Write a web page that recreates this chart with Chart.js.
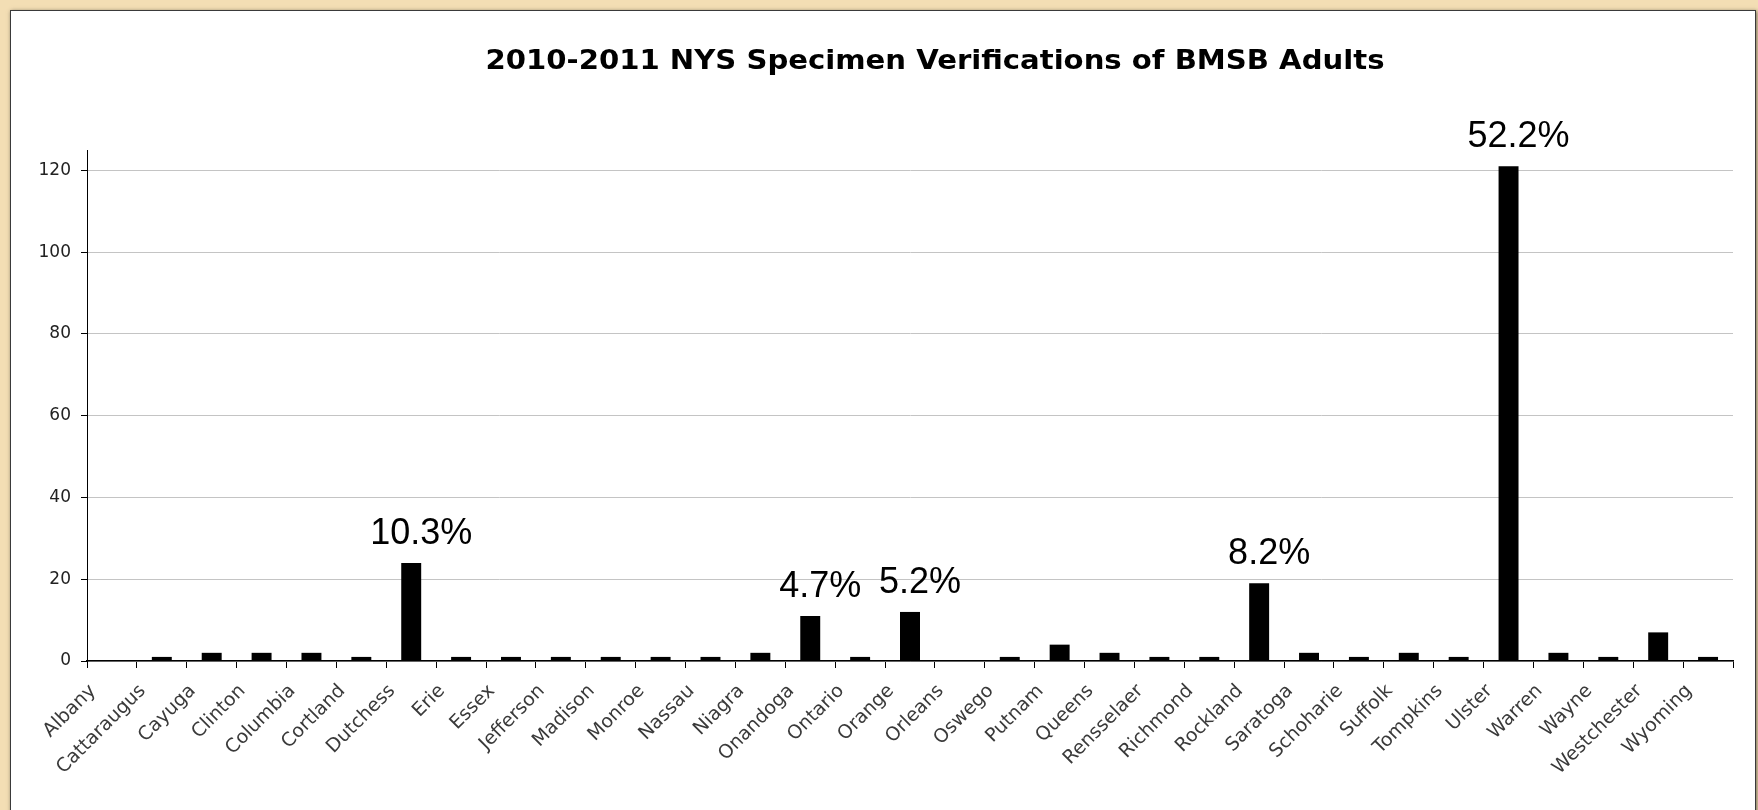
<!DOCTYPE html>
<html>
<head>
<meta charset="utf-8">
<script src="https://cdn.jsdelivr.net/npm/chart.js@4/dist/chart.umd.min.js"></script>
<style>
  html, body { margin: 0; padding: 0; background: #f3deb4; overflow: hidden }
  #panel { position: absolute; left: 10px; top: 10px; width: 1744px; height: 830px;
           background: #fff; border: 1px solid #3a3a3a; box-shadow: 1px 1px 4px rgba(0,0,0,.55) }
  #chart { position: absolute; left: 0; top: 0 }
</style>
</head>
<body>
<div id="panel"></div>
<canvas id="chart" width="1758" height="810"></canvas>
<script>
"use strict"

const title = "2010-2011 NYS Specimen Verifications of BMSB Adults"

const counties = [
  "Albany", "Cattaraugus", "Cayuga", "Clinton", "Columbia", "Cortland", "Dutchess",
  "Erie", "Essex", "Jefferson", "Madison", "Monroe", "Nassau", "Niagra", "Onandoga",
  "Ontario", "Orange", "Orleans", "Oswego", "Putnam", "Queens", "Rensselaer", "Richmond",
  "Rockland", "Saratoga", "Schoharie", "Suffolk", "Tompkins", "Ulster", "Warren",
  "Wayne", "Westchester", "Wyoming"
]

const specimens = [
  0, 1, 2, 2, 2, 1, 24,
  1, 1, 1, 1, 1, 1, 2, 11,
  1, 12, 0, 1, 4, 2, 1, 1,
  19, 2, 1, 2, 1, 121, 2,
  1, 7, 1
]

// share of total, only written over the big bars
const shares = {
  "Dutchess": "10.3%", "Onandoga": "4.7%", "Orange": "5.2%",
  "Rockland": "8.2%", "Ulster": "52.2%"
}

const yTicks = [0, 20, 40, 60, 80, 100, 120]

const fam = "'DejaVu Sans', Verdana, sans-serif"

const sharePlugin = {
  id: "shares",
  afterDatasetsDraw(chart) {
    const { ctx } = chart
    const bars = chart.getDatasetMeta(0).data
    ctx.save()
    ctx.font = "36px 'Liberation Sans', Arial, sans-serif"
    ctx.fillStyle = "#000"
    ctx.textAlign = "center"
    bars.forEach((bar, i) => {
      const txt = shares[counties[i]]
      if (txt) ctx.fillText(txt, bar.x + 10, bar.y - 19)
    })
    ctx.restore()
  }
}

// title is a bit wider than the font, like the original screenshot
const titlePlugin = {
  id: "bigTitle",
  afterDraw(chart) {
    const { ctx, chartArea } = chart
    ctx.save()
    ctx.translate((chartArea.left + chartArea.right) / 2 + 25, 69)
    ctx.scale(1.12, 1)
    ctx.font = "bold 26px " + fam
    ctx.fillStyle = "#000"
    ctx.textAlign = "center"
    ctx.fillText(title, 0, 0)
    ctx.restore()
  }
}

new Chart("chart", {
  type: "bar",
  data: {
    labels: counties,
    datasets: [{
      data: specimens,
      backgroundColor: "#000",
      barPercentage: 0.8,
      categoryPercentage: 0.5
    }]
  },
  options: {
    responsive: false,
    animation: false,
    devicePixelRatio: 1,
    layout: { padding: { top: 150, right: 25, left: 0, bottom: 0 } },
    plugins: { legend: { display: false }, tooltip: { enabled: false }, title: { display: false } },
    scales: {
      x: {
        afterFit: s => { s.height = 149 },
        grid: { drawOnChartArea: false, tickLength: 7, tickColor: "#000", offset: true },
        border: { color: "#000", width: 1.5 },
        ticks: {
          font: { family: fam, size: 19 }, color: "#3a3a3a", autoSkip: false,
          minRotation: 45, maxRotation: 45, padding: 12, labelOffset: -19
        }
      },
      y: {
        min: 0, max: 125,
        afterFit: s => { s.width = 87 },
        afterBuildTicks: s => { s.ticks = yTicks.map(v => ({ value: v })) },
        grid: { color: "#c4c4c4", tickColor: "#000", tickLength: 6 },
        border: { color: "#000", width: 1 },
        ticks: { font: { family: fam, size: 17 }, color: "#222", padding: 10 }
      }
    }
  },
  plugins: [sharePlugin, titlePlugin]
})
</script>
</body>
</html>
